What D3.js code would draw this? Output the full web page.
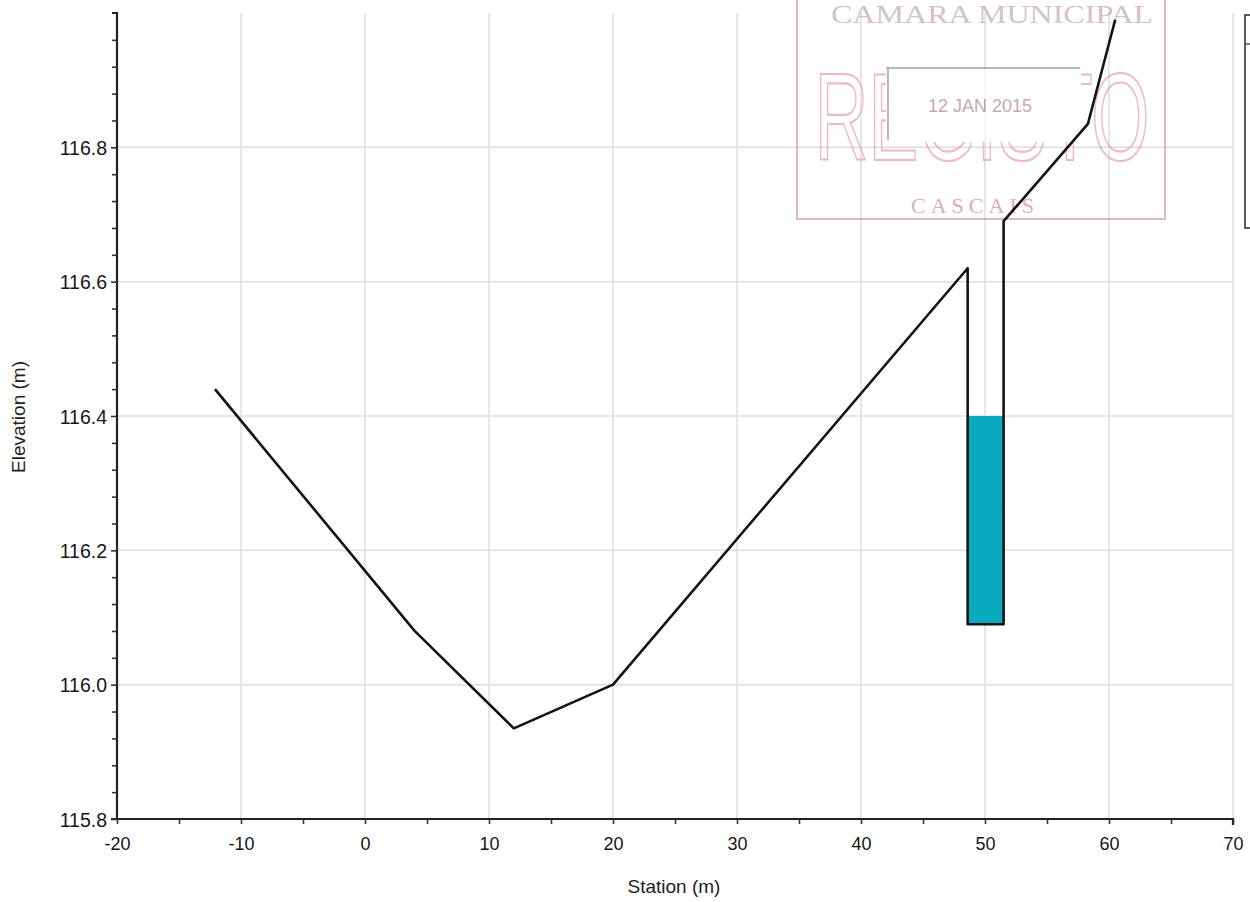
<!DOCTYPE html>
<html><head><meta charset="utf-8">
<script src="https://cdnjs.cloudflare.com/ajax/libs/d3/7.8.5/d3.min.js"></script>
<style>
body{margin:0;background:#fff;}
svg{display:block;font-family:"Liberation Sans",Arial,sans-serif;}
</style></head>
<body><svg id="c" width="1250" height="902"></svg>
<script>
// ---- data ----
const groundStation   = [-12.1, 4.0, 12.0, 20.0, 48.6, 48.6, 51.5, 51.5, 58.3, 60.5];
const groundElevation = [116.44, 116.08, 115.935, 116.0, 116.62, 116.09, 116.09, 116.69, 116.835, 116.99];
const waterStation    = [48.6, 51.5];
const waterElevation  = [116.09, 116.40];
const xTicks = [-20, -10, 0, 10, 20, 30, 40, 50, 60, 70];
const yTicks = [115.8, 116.0, 116.2, 116.4, 116.6, 116.8];
const stampLines = ["CAMARA MUNICIPAL", "REGISTO", "12 JAN 2015", "CASCAIS"];

const svg = d3.select("#c");
const x = d3.scaleLinear().domain([-20, 70]).range([117, 1233]);
const y = d3.scaleLinear().domain([115.8, 117.0]).range([819, 13]);

// grid
svg.append("g").selectAll("line").data(xTicks.slice(1)).join("line")
  .attr("x1", d => x(d)).attr("x2", d => x(d)).attr("y1", y(117.0)).attr("y2", y(115.8))
  .attr("stroke", "#dedede").attr("stroke-width", 1.5);
svg.append("g").selectAll("line").data(yTicks.slice(1)).join("line")
  .attr("x1", x(-20)).attr("x2", x(70)).attr("y1", d => y(d)).attr("y2", d => y(d))
  .attr("stroke", "#dedede").attr("stroke-width", 1.5);

// stamp
const st = svg.append("g").attr("opacity", 0.6);
st.append("rect").attr("x", 797).attr("y", -4).attr("width", 368).attr("height", 223)
  .attr("fill", "none").attr("stroke", "#c98a9a").attr("stroke-width", 2);
st.append("text").attr("x", 992).attr("y", 23).attr("text-anchor", "middle")
  .attr("font-family", "Liberation Serif, serif").attr("font-size", 25).attr("fill", "#b89aa2")
  .attr("textLength", 322).attr("lengthAdjust", "spacingAndGlyphs").text(stampLines[0]);
st.append("text").attr("x", 982).attr("y", 160).attr("text-anchor", "middle")
  .attr("font-size", 125).attr("fill", "none").attr("stroke", "#e38aa5").attr("stroke-width", 2.2)
  .attr("textLength", 335).attr("lengthAdjust", "spacingAndGlyphs").text(stampLines[1]);
st.append("rect").attr("x", 886).attr("y", 68).attr("width", 195).attr("height", 74)
  .attr("fill", "#fff").attr("stroke", "none");
st.append("path").attr("d", "M888,68 V140 M886,68 H1080")
  .attr("fill", "none").attr("stroke", "#888").attr("stroke-width", 2);
st.append("text").attr("x", 980).attr("y", 112).attr("text-anchor", "middle")
  .attr("font-size", 18).attr("fill", "#a0707c").text(stampLines[2]);
st.append("text").attr("x", 975).attr("y", 213).attr("text-anchor", "middle")
  .attr("font-family", "Liberation Serif, serif").attr("font-size", 22).attr("fill", "#c07a8c")
  .attr("letter-spacing", 5).text(stampLines[3]);

// water
svg.append("rect")
  .attr("x", x(waterStation[0])).attr("y", y(waterElevation[1]))
  .attr("width", x(waterStation[1]) - x(waterStation[0]))
  .attr("height", y(waterElevation[0]) - y(waterElevation[1]))
  .attr("fill", "#09a9bf");

// ground line
const pts = groundStation.map((s, i) => [s, groundElevation[i]]);
svg.append("path").datum(pts)
  .attr("d", d3.line().x(d => x(d[0])).y(d => y(d[1])))
  .attr("fill", "none").attr("stroke", "#141414").attr("stroke-width", 2.6)
  .attr("stroke-linejoin", "round");

// axes
const fmtX = d => String(d);           // plain hyphen-minus as in the reference
const fmtY = d => d.toFixed(1);
const gx = svg.append("g").attr("transform", `translate(0,${y(115.8)})`)
  .call(d3.axisBottom(x).tickValues(xTicks).tickSize(5).tickFormat(fmtX));
const gxm = svg.append("g").attr("transform", `translate(0,${y(115.8)})`)
  .call(d3.axisBottom(x).tickValues(d3.range(-15, 70, 10)).tickSize(5).tickFormat(""));
gxm.select(".domain").remove();

const gy = svg.append("g").attr("transform", `translate(${x(-20)},0)`)
  .call(d3.axisLeft(y).tickValues(yTicks).tickSize(6).tickFormat(fmtY));
const minorY = d3.range(0, 31).map(i => 115.8 + i * 0.04)
  .filter(v => Math.abs(((v - 115.8) / 0.2) - Math.round((v - 115.8) / 0.2)) > 0.01);
const gym = svg.append("g").attr("transform", `translate(${x(-20)},0)`)
  .call(d3.axisLeft(y).tickValues(minorY).tickSize(5).tickFormat(""));
gym.select(".domain").remove();

[gx, gy, gxm, gym].forEach(g => {
  g.selectAll(".domain").attr("stroke", "#222").attr("stroke-width", 2.2);
  g.selectAll(".tick line").attr("stroke", "#333").attr("stroke-width", 1.6);
  g.selectAll("text").attr("fill", "#161616")
    .attr("font-family", "Liberation Sans, Arial, sans-serif");
});
gy.selectAll(".domain").attr("d", `M-6,${y(115.8)}H0V${y(117.0)}H-5`);
gx.selectAll(".domain").attr("d", `M${x(-20)},0V0H${x(70)}V6`);
gx.selectAll("text").attr("font-size", 18).attr("y", 31).attr("dy", 0);
gy.selectAll("text").attr("font-size", 19.5).attr("x", -10).attr("dy", "0.36em");

// axis titles
svg.append("text").attr("x", 674).attr("y", 893).attr("text-anchor", "middle")
  .attr("font-size", 19).attr("fill", "#1e1e1e").text("Station (m)");
svg.append("text").attr("transform", "translate(25,417) rotate(-90)").attr("text-anchor", "middle")
  .attr("font-size", 19).attr("fill", "#1e1e1e").text("Elevation (m)");

// legend box (cut off at the right edge)
svg.append("rect").attr("x", 1245).attr("y", 15).attr("width", 30).attr("height", 213)
  .attr("fill", "#fff").attr("stroke", "#333").attr("stroke-width", 1.6);
svg.append("line").attr("x1", 1245).attr("x2", 1250).attr("y1", 44).attr("y2", 44)
  .attr("stroke", "#444").attr("stroke-width", 1.4);
</script></body></html>
